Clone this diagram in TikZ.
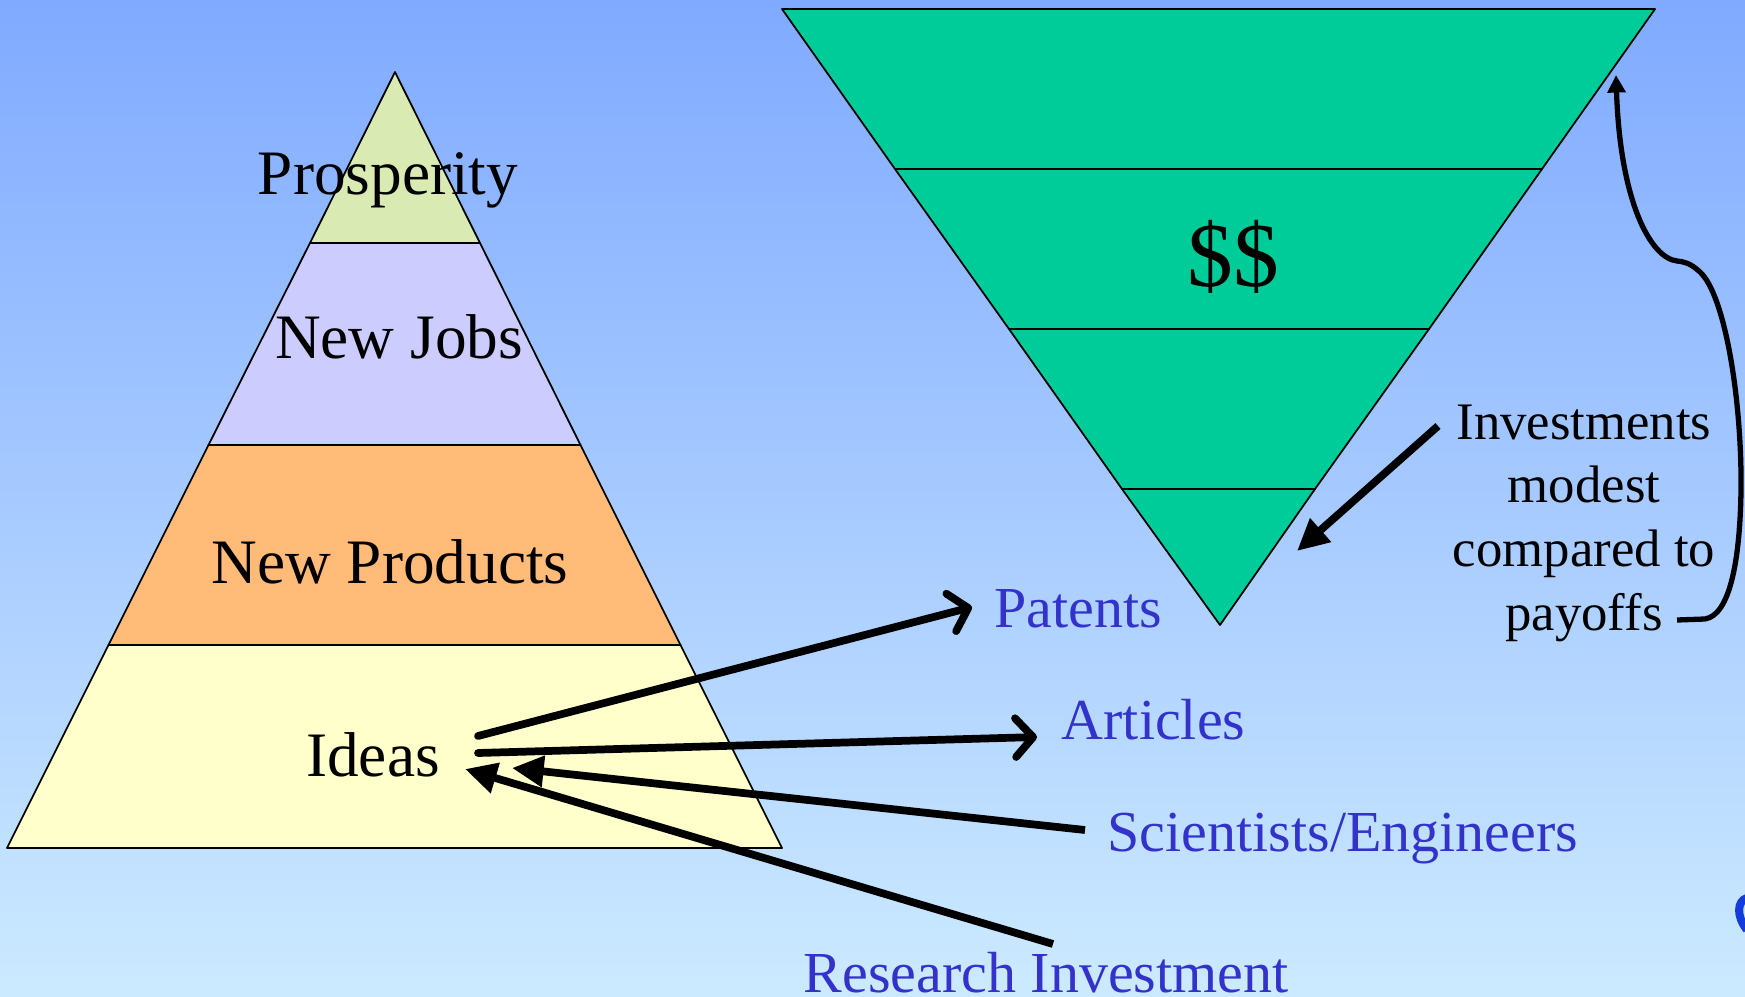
\documentclass[tikz,border=0pt]{standalone}
\usepackage{fontspec}
\setmainfont{Liberation Serif}
\usetikzlibrary{arrows.meta}
\definecolor{bgtop}{RGB}{128,170,255}
\definecolor{bgbot}{RGB}{204,234,255}
\definecolor{prosp}{RGB}{217,234,179}
\definecolor{jobs}{RGB}{204,204,255}
\definecolor{prod}{RGB}{255,187,119}
\definecolor{ideasc}{RGB}{255,255,204}
\definecolor{funnelc}{RGB}{0,204,153}
\definecolor{lbl}{RGB}{51,51,204}
\definecolor{logoc}{RGB}{20,60,220}
\tikzset{
  band/.style={draw=black, line width=0.5pt, line join=round},
  bigtext/.style={inner sep=0pt, anchor=base, font=\fontsize{18}{21.6}\selectfont},
  bluetext/.style={inner sep=0pt, anchor=base west, text=lbl, font=\fontsize{16.5}{19.8}\selectfont},
  outarrow/.style={line width=2.2pt, line cap=round, -{Straight Barb[length=5pt,width=11pt,line cap=round,line join=round]}},
  inarrow/.style={line width=2.2pt, -{Triangle[length=9pt,width=8.5pt]}},
  bracearrow/.style={line width=1.5pt, -{Triangle[length=5pt,width=5pt]}}
}
\begin{document}
\begin{tikzpicture}[x=0.01cm,y=-0.01cm]
\useasboundingbox (0,0) rectangle (1745,997);
\fill[top color=bgtop, bottom color=bgbot] (0,0) rectangle (1745,997);

% left pyramid
\filldraw[band, fill=ideasc] (108.5,645) -- (680.5,645) -- (782,848) -- (7,848) -- cycle;
\filldraw[band, fill=prod] (208.5,445) -- (580.5,445) -- (680.5,645) -- (108.5,645) -- cycle;
\filldraw[band, fill=jobs] (310,243) -- (480,243) -- (580.5,445) -- (208.5,445) -- cycle;
\filldraw[band, fill=prosp] (395,72) -- (480,243) -- (310,243) -- cycle;

\node[bigtext] (prosperity) at (388,195) {Prosperity};
\node[bigtext] (jobs) at (399,358) {New Jobs};
\node[bigtext] (products) at (390,583) {New Products};
\node[bigtext] (ideas) at (373,776) {Ideas};

% funnel
\filldraw[band, fill=funnelc] (782,9) -- (1655,9) -- (1542,169) -- (895,169) -- cycle;
\filldraw[band, fill=funnelc] (895,169) -- (1542,169) -- (1429,329) -- (1009,329) -- cycle;
\filldraw[band, fill=funnelc] (1009,329) -- (1429,329) -- (1315,489) -- (1122,489) -- cycle;
\filldraw[band, fill=funnelc] (1122,489) -- (1315,489) -- (1220,625) -- cycle;
\node[inner sep=0pt, anchor=base, font=\fontsize{26}{30}\selectfont] (dollars) at (1233,287) {\$\$};

% blue labels
\node[bluetext] (patents) at (994,627) {Patents};
\node[bluetext] (articles) at (1061,739) {Articles};
\node[bluetext] (scientists) at (1107,851) {Scientists/Engineers};
\node[bluetext] (research) at (803,992) {Research Investment};

% investments text (base anchor = baseline of last line)
\node[inner sep=0pt, align=center, anchor=base, font=\fontsize{15}{18.1}\selectfont] (invest) at (1584,630)
  {Investments\\modest\\compared to\\payoffs};

% connector end points
\coordinate (ideasP) at (478,736);
\coordinate (ideasA) at (478,753);
\coordinate (ideasS) at (512,768);
\coordinate (ideasR) at (465,769);
\coordinate (patIn) at (972,607);
\coordinate (artIn) at (1037,737);
\coordinate (sciOut) at (1085,830);
\coordinate (resOut) at (1053,944);
\coordinate (invOut) at (1438,426);
\coordinate (funTip) at (1297,551);
\coordinate (payEnd) at (1677,620);
\coordinate (funEdge) at (1616,75);

\draw[outarrow] (ideasP) -- (patIn);
\draw[outarrow] (ideasA) -- (artIn);
\draw[inarrow] (sciOut) -- (ideasS);
\draw[inarrow] (resOut) -- (ideasR);
\draw[inarrow] (invOut) -- (funTip);
\draw[bracearrow] (payEnd) -- (1705,619) .. controls (1730,615) and (1740,560) .. (1741,490)
  .. controls (1742,400) and (1725,295) .. (1700,272)
  .. controls (1690,263) and (1685,262) .. (1677,261)
  .. controls (1650,258) and (1620,200) .. (funEdge);

% logo fragment at the right edge
\draw[logoc, line width=2.3pt] (1747,898) .. controls (1737,901) and (1736,916) .. (1747,930);
\end{tikzpicture}
\end{document}
